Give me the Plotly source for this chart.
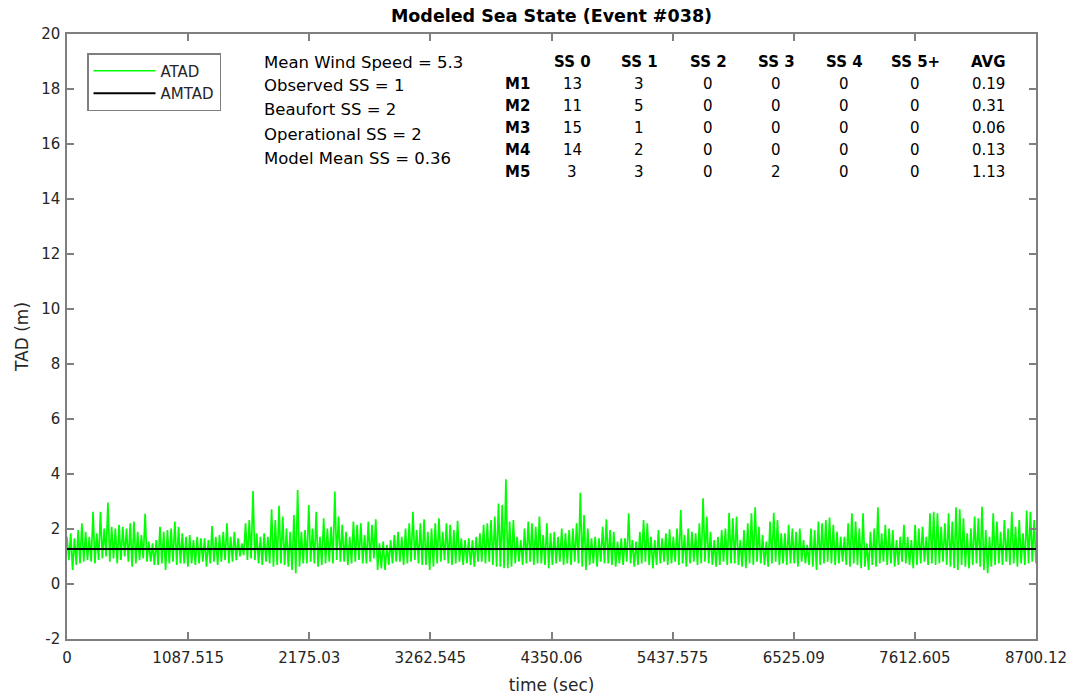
import numpy as np
import plotly.graph_objects as go

# ---------------- data ----------------
t_start_sec = 0.0
t_end_sec = 8700.12
x_tick_vals = [0, 1087.515, 2175.03, 3262.545, 4350.06, 5437.575, 6525.09, 7612.605, 8700.12]
x_tick_text = ["0", "1087.515", "2175.03", "3262.545", "4350.06", "5437.575", "6525.09", "7612.605", "8700.12"]
y_tick_vals = [-2, 0, 2, 4, 6, 8, 10, 12, 14, 16, 18, 20]
y_tick_text = ["-2", "0", "2", "4", "6", "8", "10", "12", "14", "16", "18", "20"]

# ATAD envelope: local peaks and local troughs (m), in time order
atad_peak_m = [
    1.72, 1.84, 1.66, 1.96, 2.21, 1.90, 1.72, 2.63, 1.84, 2.63,
    2.02, 2.96, 2.08, 2.02, 2.15, 2.08, 2.02, 2.21, 2.27, 1.90,
    1.78, 2.55, 1.54, 1.48, 1.60, 2.08, 1.90, 1.96, 2.02, 2.27,
    2.08, 1.84, 1.72, 1.78, 1.60, 1.72, 1.66, 1.66, 1.60, 2.11,
    1.72, 1.78, 1.90, 2.21, 1.72, 1.90, 1.66, 1.48, 2.21, 2.33,
    3.38, 1.84, 1.72, 1.84, 1.72, 2.72, 2.33, 2.84, 2.45, 2.02,
    1.90, 2.51, 3.42, 1.90,
    1.96, 2.87, 2.02, 2.63, 1.72, 2.39, 2.02, 2.08, 3.36, 2.45,
    2.15, 1.90, 1.72, 2.27, 2.15, 2.21, 1.78, 2.27, 2.15, 2.35,
    1.48, 1.54, 1.42, 1.60, 1.78, 1.90, 1.72, 2.02, 2.21, 2.63,
    1.96, 2.21, 2.35, 1.90, 2.02, 2.21, 2.39, 1.90, 2.21, 2.15,
    1.96, 2.30, 1.66, 1.60, 1.66, 1.60, 1.72, 1.84, 2.15, 2.21,
    2.33, 2.45, 2.93, 2.87, 3.81, 2.27, 2.33, 1.72, 1.60, 2.02,
    2.27, 2.21, 2.08, 2.45,
    1.78, 2.21, 1.84, 1.90, 1.72, 2.02, 1.84, 1.96, 2.02, 2.21,
    3.32, 2.51, 2.02, 1.66, 1.72, 1.66, 2.08, 2.35, 1.96, 1.90,
    1.54, 1.66, 1.66, 2.57, 1.60, 1.54, 1.90, 2.33, 2.21, 1.72,
    1.60, 1.96, 1.66, 1.84, 1.99, 1.72, 2.02, 2.69, 1.78, 2.02,
    1.90, 1.84, 2.21, 3.12, 2.45, 1.90, 1.60, 1.72, 1.96, 2.02,
    2.59, 2.39, 2.45, 1.60, 1.96, 2.21, 2.57, 2.79, 2.08, 1.78,
    1.54, 2.27, 2.59, 2.33, 1.84,
    1.84, 2.15, 2.02, 1.90, 2.02, 1.60, 1.42, 2.02, 1.96, 2.27,
    2.21, 2.33, 2.42, 2.15, 1.90, 1.72, 1.72, 2.21, 2.57, 2.27,
    2.02, 2.57, 1.48, 1.90, 2.02, 2.79, 1.84, 2.15, 2.02, 1.96,
    1.60, 1.72, 2.15, 1.72, 1.60, 2.15, 2.02, 2.08, 1.72, 2.57,
    2.63, 2.57, 2.08, 2.21, 2.57, 2.27, 2.79, 2.72, 2.39, 1.84,
    2.02, 2.45, 2.39, 2.81, 1.96, 1.72, 2.57, 2.27, 1.90, 2.33,
    2.02, 2.63, 2.08, 2.33, 1.84, 2.67, 2.63, 2.33,
]
atad_trough_m = [
    0.87, 0.51, 0.69, 0.75, 0.81, 0.87, 0.81, 0.75, 0.87, 0.93,
    1.00, 0.81, 0.93, 0.75, 0.87, 1.00, 0.81, 0.63, 0.75, 0.87,
    0.93, 0.81, 0.81, 0.69, 0.69, 0.75, 0.51, 0.75, 0.81, 0.69,
    0.75, 0.75, 0.63, 0.75, 0.69, 0.75, 0.81, 0.63, 0.75, 0.81,
    0.69, 0.81, 0.87, 0.75, 0.81, 0.87, 1.00, 1.05, 0.87, 0.93,
    0.87, 0.75, 0.69, 0.81, 0.75, 0.63, 0.69, 0.75, 0.69, 0.63,
    0.51, 0.39, 0.63, 0.75,
    0.75, 0.81, 0.75, 0.63, 0.69, 0.75, 0.81, 0.75, 0.87, 0.81,
    0.81, 0.69, 0.75, 0.81, 0.87, 0.75, 0.75, 0.81, 0.93, 0.51,
    0.57, 0.51, 0.69, 0.75, 0.81, 0.81, 0.69, 0.75, 0.81, 0.87,
    0.75, 0.69, 0.69, 0.51, 0.63, 0.75, 0.81, 0.87, 0.75, 0.69,
    0.75, 0.81, 0.69, 0.75, 0.69, 0.63, 0.81, 0.81, 0.75, 0.81,
    0.69, 0.63, 0.63, 0.57, 0.57, 0.63, 0.75, 0.81, 0.69, 0.75,
    0.81, 0.69, 0.75, 0.75,
    0.69, 0.57, 0.69, 0.75, 0.81, 0.69, 0.75, 0.69, 0.81, 0.75,
    0.63, 0.51, 0.69, 0.75, 0.63, 0.81, 0.75, 0.75, 0.69, 0.63,
    0.75, 0.69, 0.81, 0.75, 0.63, 0.69, 0.75, 0.81, 0.69, 0.57,
    0.69, 0.75, 0.81, 0.69, 0.75, 0.81, 0.69, 0.75, 0.63, 0.75,
    0.81, 0.69, 0.75, 0.81, 0.75, 0.69, 0.63, 0.69, 0.81, 0.69,
    0.75, 0.75, 0.69, 0.63, 0.57, 0.75, 0.69, 0.81, 0.75, 0.69,
    0.63, 0.75, 0.81, 0.69, 0.75,
    0.69, 0.75, 0.75, 0.63, 0.81, 0.75, 0.69, 0.63, 0.51, 0.69,
    0.75, 0.81, 0.75, 0.69, 0.75, 0.81, 0.69, 0.63, 0.75, 0.69,
    0.57, 0.63, 0.51, 0.69, 0.63, 0.75, 0.81, 0.69, 0.75, 0.63,
    0.69, 0.81, 0.75, 0.69, 0.57, 0.69, 0.75, 0.81, 0.69, 0.75,
    0.69, 0.75, 0.81, 0.69, 0.63, 0.57, 0.51, 0.69, 0.63, 0.57,
    0.69, 0.75, 0.63, 0.51, 0.39, 0.63, 0.69, 0.75, 0.69, 0.81,
    0.69, 0.75, 0.63, 0.75, 0.69, 0.75, 0.81, 0.75,
]
amtad_m = 1.27

info_lines = [
    "Mean Wind Speed = 5.3",
    "Observed SS = 1",
    "Beaufort SS = 2",
    "Operational SS = 2",
    "Model Mean SS = 0.36",
]
table_cols = ["SS 0", "SS 1", "SS 2", "SS 3", "SS 4", "SS 5+", "AVG"]
table_rows = ["M1", "M2", "M3", "M4", "M5"]
table_vals = [
    ["13", "3", "0", "0", "0", "0", "0.19"],
    ["11", "5", "0", "0", "0", "0", "0.31"],
    ["15", "1", "0", "0", "0", "0", "0.06"],
    ["14", "2", "0", "0", "0", "0", "0.13"],
    ["3", "3", "0", "2", "0", "0", "1.13"],
]

# ---------------- build series ----------------
atad_vals = []
for p, tr in zip(atad_peak_m, atad_trough_m):
    atad_vals.extend([p, tr])
atad_t = np.linspace(t_start_sec, t_end_sec, len(atad_vals))

# ---------------- layout constants ----------------
W, H = 1075, 700
L, R, T, B = 67, 39, 34, 61
PW, PH = W - L - R, H - T - B
FONT = "DejaVu Sans"
AX = "#7f7f7f"
TXT = "#262626"


def px(xs):
    return (xs - L) / PW


def py(ys):
    return (H - B - ys) / PH


fig = go.Figure()
fig.add_trace(go.Scatter(x=atad_t, y=atad_vals, mode="lines", name="ATAD",
                         line=dict(color="#00ff00", width=1.7)))
fig.add_trace(go.Scatter(x=[t_start_sec, t_end_sec], y=[amtad_m, amtad_m], mode="lines",
                         name="AMTAD", line=dict(color="#000000", width=2)))

ann = []
info_y = [62, 86, 110, 134, 158]
for s, yy in zip(info_lines, info_y):
    ann.append(dict(text=s, x=px(262), y=py(yy), xref="paper", yref="paper",
                    xanchor="left", yanchor="middle", showarrow=False,
                    font=dict(family=FONT, size=16.5, color="#000")))
col_x = [572, 639, 708, 776, 844, 915, 988]
row_y = [84, 106, 128, 150, 172]
for c, cx in zip(table_cols, col_x):
    ann.append(dict(text="<b>%s</b>" % c, x=px(cx), y=py(62), xref="paper", yref="paper",
                    xanchor="center", yanchor="middle", showarrow=False,
                    font=dict(family=FONT, size=15, color="#000")))
for r, ry, vals in zip(table_rows, row_y, table_vals):
    ann.append(dict(text="<b>%s</b>" % r, x=px(503), y=py(ry), xref="paper", yref="paper",
                    xanchor="left", yanchor="middle", showarrow=False,
                    font=dict(family=FONT, size=15, color="#000")))
    for v, cx in zip(vals, col_x):
        ann.append(dict(text=v, x=px(cx), y=py(ry), xref="paper", yref="paper",
                        xanchor="center", yanchor="middle", showarrow=False,
                        font=dict(family=FONT, size=15, color="#000")))

fig.update_layout(
    width=W, height=H,
    margin=dict(l=L, r=R, t=T, b=B, pad=0, autoexpand=False),
    paper_bgcolor="white", plot_bgcolor="white",
    title=dict(text="<b>Modeled Sea State (Event #038)</b>", x=px(551.5), xref="paper",
               xanchor="center", y=1 - 16 / H, yref="container", yanchor="middle",
               pad=dict(t=0, b=0, l=0, r=0),
               font=dict(family=FONT, size=17.5, color="#000")),
    showlegend=True,
    legend=dict(x=px(87), y=py(53), xanchor="left", yanchor="top",
                bgcolor="white", bordercolor=AX, borderwidth=1.5,
                font=dict(family=FONT, size=15, color=TXT), itemwidth=62,
                entrywidth=72, entrywidthmode="pixels",
                tracegroupgap=0),
    annotations=ann,
    xaxis=dict(range=[t_start_sec, t_end_sec], tickvals=x_tick_vals, ticktext=x_tick_text,
               showgrid=False, zeroline=False, showline=True, linecolor=AX, linewidth=1.5,
               mirror="ticks", ticks="inside", ticklen=7, tickcolor=AX, tickwidth=1.5,
               tickfont=dict(family=FONT, size=15, color=TXT), ticklabelstandoff=4,
               automargin=False,
               title=dict(text="time (sec)", font=dict(family=FONT, size=17, color=TXT),
                          standoff=13)),
    yaxis=dict(range=[-2, 20], tickvals=y_tick_vals, ticktext=y_tick_text,
               showgrid=False, zeroline=False, showline=True, linecolor=AX, linewidth=1.5,
               mirror="ticks", ticks="inside", ticklen=7, tickcolor=AX, tickwidth=1.5,
               tickfont=dict(family=FONT, size=15, color=TXT), ticklabelstandoff=2,
               automargin=False,
               title=dict(text="TAD (m)", font=dict(family=FONT, size=17, color=TXT),
                          standoff=8)),
)

# remove the browser's default 8px page margin so the figure fills the window exactly
fig.write_html("out.html", config={"displayModeBar": False},
               post_script="document.body.style.margin='0';")
